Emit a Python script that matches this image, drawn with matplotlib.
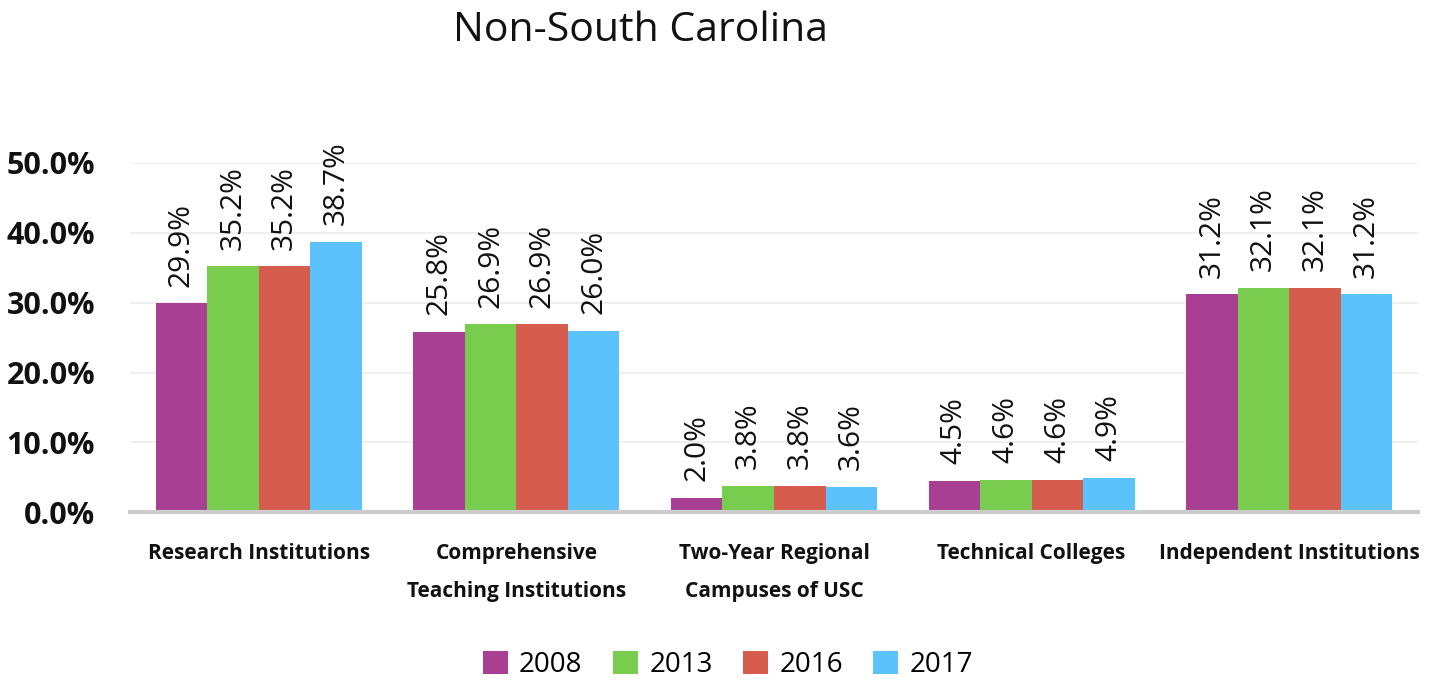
import numpy as np
import matplotlib
matplotlib.use("Agg")
import matplotlib.pyplot as plt

categories = [
    "Research Institutions",
    "Comprehensive\nTeaching Institutions",
    "Two-Year Regional\nCampuses of USC",
    "Technical Colleges",
    "Independent Institutions",
]
years = ["2008", "2013", "2016", "2017"]
values = {
    "2008": [29.9, 25.8, 2.0, 4.5, 31.2],
    "2013": [35.2, 26.9, 3.8, 4.6, 32.1],
    "2016": [35.2, 26.9, 3.8, 4.6, 32.1],
    "2017": [38.7, 26.0, 3.6, 4.9, 31.2],
}
colors = ["#a83f92", "#78cd4e", "#d65c4d", "#5bc2fb"]

plt.rcParams["font.family"] = ["Open Sans", "DejaVu Sans"]

fig = plt.figure(figsize=(14.36, 6.82), dpi=100)
ax = fig.add_axes([0.0905, 0.249, 0.897, 0.512])

x = np.arange(len(categories))
width = 0.2
for i, yr in enumerate(years):
    pos = x + (i - 1.5) * width
    bars = ax.bar(pos, values[yr], width, color=colors[i], label=yr, zorder=2)
    for b, v in zip(bars, values[yr]):
        ax.text(b.get_x() + b.get_width() / 2, v + 2.4, f"{v:.1f}%",
                rotation=90, ha="center", va="bottom", fontsize=21.5,
                color="#111111", zorder=3)

ax.set_xlim(-0.5, 4.5)
ax.set_ylim(0, 50)
ax.set_yticks(np.arange(0, 51, 10))
ax.set_yticklabels([f"{t:.1f}%" for t in np.arange(0, 51, 10)],
                   fontsize=22, fontweight="bold")
ax.set_xticks(x)
ax.set_xticklabels(categories, fontsize=15, fontweight="bold", linespacing=2.1)
ax.tick_params(axis="both", length=0, colors="#111111")
ax.tick_params(axis="x", pad=22)
ax.tick_params(axis="y", pad=25)
ax.grid(axis="y", color="#ececec", linewidth=1.2, zorder=0)
for s in ["top", "right", "left"]:
    ax.spines[s].set_visible(False)
ax.spines["bottom"].set_color("#cccccc")
ax.spines["bottom"].set_linewidth(3)

fig.text(0.446, 0.955, "Non-South Carolina", ha="center", va="center",
         fontsize=29.5, color="#111111")

fig.legend(loc="lower center", bbox_to_anchor=(0.507, -0.032), ncol=4,
           frameon=False, fontsize=20, handlelength=0.9, handleheight=0.9,
           handletextpad=0.4, columnspacing=1.1)

fig.savefig("out.png", dpi=100)
